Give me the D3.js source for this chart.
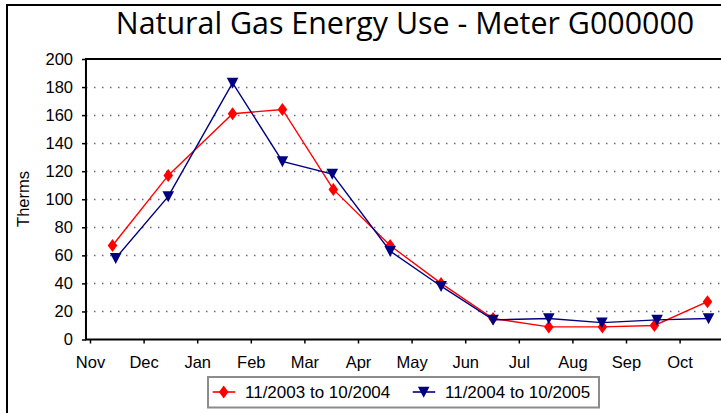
<!DOCTYPE html>
<html>
<head>
<meta charset="utf-8">
<script src="https://cdn.jsdelivr.net/npm/d3@7"></script>
<style>
  body { margin: 0; background: #fff; }
  svg { display: block; }
</style>
</head>
<body>
<div id="chart"></div>
<script>
var width = 721, height = 413;

// month tick labels (ticks sit at the start of each month)
var months = ["Nov", "Dec", "Jan", "Feb", "Mar", "Apr", "May", "Jun", "Jul", "Aug", "Sep", "Oct"];
var yTicks = [0, 20, 40, 60, 80, 100, 120, 140, 160, 180, 200];
var seriesNames = ["11/2003 to 10/2004", "11/2004 to 10/2005"];

// meter read position, in months after the Nov tick, and therms used
var readPos0304 = [0.42, 1.46, 2.66, 3.59, 4.54, 5.60, 6.55, 7.52, 8.56, 9.56, 10.53, 11.52];
var therms0304  = [67, 117, 161, 164, 107, 67, 40, 15, 9, 9, 10, 27];
var readPos0405 = [0.48, 1.46, 2.66, 3.59, 4.52, 5.60, 6.55, 7.52, 8.56, 9.55, 10.58, 11.54];
var therms0405  = [58, 102, 183, 127, 118, 63, 38, 14, 15, 12, 14, 15];

var font = "'Liberation Sans', Arial, sans-serif";

var x = d3.scaleLinear().domain([0, 11]).range([90, 679.6]);
var y = d3.scaleLinear().domain([0, 200]).range([339.5, 59]);
var plotLeft = x(-0.075), plotRight = 790;

var svg = d3.select("#chart").append("svg")
    .attr("width", width).attr("height", height);

// chart border (runs off the right and bottom like the original crop)
svg.append("rect")
    .attr("x", 7).attr("y", 5).attr("width", 800).attr("height", 500)
    .attr("fill", "#fff").attr("stroke", "#000").attr("stroke-width", 2);

svg.append("text")
    .attr("x", 405).attr("y", 33.5)
    .attr("text-anchor", "middle")
    .style("font", "30.4px 'Open Sans', 'Segoe UI', sans-serif")
    .text("Natural Gas Energy Use - Meter G000000");

// dotted gridlines
svg.append("g").selectAll("line")
    .data(yTicks.filter(function(d) { return d > 0 && d < 200; }))
    .enter().append("line")
    .attr("x1", plotLeft).attr("x2", plotRight)
    .attr("y1", function(d) { return Math.round(y(d)) + 0.5; })
    .attr("y2", function(d) { return Math.round(y(d)) + 0.5; })
    .attr("stroke", "#66668c")
    .attr("stroke-width", 1.5)
    .attr("stroke-dasharray", "1.5,6.5");

// plot area frame
svg.append("rect")
    .attr("x", plotLeft).attr("y", y(200))
    .attr("width", plotRight - plotLeft).attr("height", y(0) - y(200))
    .attr("fill", "none").attr("stroke", "#000").attr("stroke-width", 2);

var yAxis = svg.append("g")
    .attr("transform", "translate(" + plotLeft + ",0)")
    .call(d3.axisLeft(y).tickValues(yTicks).tickSize(4).tickPadding(9));
yAxis.select(".domain").remove();
yAxis.selectAll("line").attr("stroke", "#000").attr("stroke-width", 1.5);
yAxis.selectAll("text").style("font", "16.5px " + font).attr("fill", "#000");

var xAxis = svg.append("g")
    .attr("transform", "translate(0," + y(0) + ")")
    .call(d3.axisBottom(x).tickValues(d3.range(12))
        .tickFormat(function(i) { return months[i]; })
        .tickSize(4).tickPadding(13));
xAxis.select(".domain").remove();
xAxis.selectAll("line").attr("stroke", "#000").attr("stroke-width", 1.5);
xAxis.selectAll("text").style("font", "16.5px " + font).attr("fill", "#000");

svg.append("text")
    .attr("transform", "translate(22.5,199) rotate(-90)")
    .attr("text-anchor", "middle")
    .attr("dominant-baseline", "central")
    .style("font", "16.5px " + font)
    .text("Therms");

var diamond = "M0,-6.5L4.8,0L0,6.5L-4.8,0Z";
var triangle = "M-5.8,-5.2L5.8,-5.2L0,5.8Z";

var series = [
    { name: seriesNames[0], pos: readPos0304, vals: therms0304, color: "#ff0000", marker: diamond },
    { name: seriesNames[1], pos: readPos0405, vals: therms0405, color: "#000080", marker: triangle }
];

var line = d3.line()
    .x(function(d) { return x(d[0]); })
    .y(function(d) { return y(d[1]); });

series.forEach(function(s) {
    var pts = s.pos.map(function(p, i) { return [p, s.vals[i]]; });
    svg.append("path")
        .attr("d", line(pts))
        .attr("fill", "none")
        .attr("stroke", s.color)
        .attr("stroke-width", 1.4);
    svg.append("g").selectAll("path")
        .data(pts).enter().append("path")
        .attr("d", s.marker)
        .attr("transform", function(d) { return "translate(" + x(d[0]) + "," + y(d[1]) + ")"; })
        .attr("fill", s.color);
});

// legend
svg.append("rect")
    .attr("x", 208).attr("y", 377).attr("width", 391).attr("height", 30.5)
    .attr("fill", "#fff").attr("stroke", "#8c8c8c").attr("stroke-width", 2);

var legendX = [212.7, 412.7];
series.forEach(function(s, i) {
    var g = svg.append("g").attr("transform", "translate(" + legendX[i] + ",392)");
    g.append("line").attr("x1", 0).attr("x2", 22.5)
        .attr("stroke", s.color).attr("stroke-width", 1.6);
    g.append("path").attr("d", s.marker)
        .attr("transform", "translate(11,0)").attr("fill", s.color);
    g.append("text").attr("x", 32.3).attr("y", 6.3)
        .style("font", "17px " + font)
        .text(s.name);
});
</script>
</body>
</html>
